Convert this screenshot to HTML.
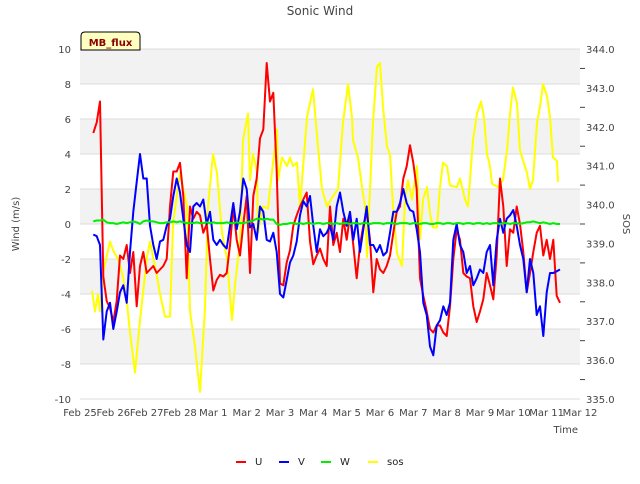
<!DOCTYPE html>
<html><head><meta charset="utf-8"><style>
body{margin:0;background:#fff;font-family:"DejaVu Sans",sans-serif}
svg text{font-family:"DejaVu Sans",sans-serif}
</style></head><body>
<svg id="chart" width="640" height="480" xmlns="http://www.w3.org/2000/svg">
<rect x="0" y="0" width="640" height="480" fill="#fff"/>
<g id="bands"></g><g id="grid"></g><g id="series"></g><g id="axes"></g>
<text x="320" y="15" text-anchor="middle" font-size="12" fill="#444">Sonic Wind</text>
<text transform="translate(19,224) rotate(-90)" text-anchor="middle" font-size="10" fill="#444">Wind (m/s)</text>
<text transform="translate(623,224) rotate(90)" text-anchor="middle" font-size="10" fill="#444">SOS</text>
<text x="578" y="433" text-anchor="end" font-size="10" fill="#444">Time</text>
<g>
<path d="M81,50 L81,36 Q81,32 85,32 L136,32 Q140,32 140,36 L140,50 Z" fill="#ffffc0" stroke="#000" stroke-width="1"/>
<text x="110.5" y="46" text-anchor="middle" font-size="10" font-weight="bold" fill="#8b0000">MB_flux</text>
</g>
<g id="legend"></g>
</svg>
<script>
const times=[0.4,0.5,0.6,0.7,0.8,0.9,1.0,1.1,1.2,1.3,1.4,1.5,1.6,1.7,1.8,1.9,2.0,2.1,2.2,2.3,2.4,2.5,2.6,2.7,2.8,2.9,3.0,3.1,3.2,3.3,3.4,3.5,3.6,3.7,3.8,3.9,4.0,4.1,4.2,4.3,4.4,4.5,4.6,4.7,4.8,4.9,5.0,5.1,5.2,5.3,5.4,5.5,5.6,5.7,5.8,5.9,6.0,6.1,6.2,6.3,6.4,6.5,6.6,6.7,6.8,6.9,7.0,7.1,7.2,7.3,7.4,7.5,7.6,7.7,7.8,7.9,8.0,8.1,8.2,8.3,8.4,8.5,8.6,8.7,8.8,8.9,9.0,9.1,9.2,9.3,9.4,9.5,9.6,9.7,9.8,9.9,10.0,10.1,10.2,10.3,10.4,10.5,10.6,10.7,10.8,10.9,11.0,11.1,11.2,11.3,11.4,11.5,11.6,11.7,11.8,11.9,12.0,12.1,12.2,12.3,12.4,12.5,12.6,12.7,12.8,12.9,13.0,13.1,13.2,13.3,13.4,13.5,13.6,13.7,13.8,13.9,14.0,14.1,14.2,14.3,14.4];
const uVals=[5.2,5.8,7.0,-3,-4.4,-4.8,-5.6,-4.4,-1.8,-2,-1.2,-2.8,-1.6,-4.7,-2.4,-1.6,-2.8,-2.6,-2.4,-2.8,-2.6,-2.4,-2,1,3,3,3.5,1.6,-3.1,1,0.3,0.7,0.5,-0.5,0,-2,-3.8,-3.2,-2.9,-3,-2.8,-1.2,1,-0.9,-1.8,0,1.6,-2.8,1.6,2.6,4.9,5.4,9.2,7,7.5,3,-3.4,-3.5,-2.2,-1.5,-0.1,0.5,1,1.4,1.8,-1,-2.3,-1.8,-1.4,-2,-2.4,1,-1.2,-0.5,-1.6,0.3,-0.9,0.5,-1.2,-3.1,-1.2,-0.1,0.7,-0.9,-3.9,-2,-2.6,-2.8,-2.4,-1.8,-0.5,0.7,1,2.6,3.3,4.5,3.5,2,-3.1,-4.1,-5,-6,-6.2,-5.8,-5.8,-6.2,-6.4,-4.7,-2,-0.3,-0.9,-2.8,-3,-3.1,-4.7,-5.6,-5,-4.3,-2.8,-3.5,-4.3,-1.8,2.6,1,-2.4,-0.3,-0.5,1,0,-1.6,-3.9,-2.8,-1.6,-0.5,-0.1,-1.8,-0.9,-2,-0.9,-4.1,-4.5];
const vVals=[-0.6,-0.7,-1.2,-6.6,-5,-4.5,-6,-5,-3.9,-3.5,-4.5,-1.6,0.7,2.4,4.0,2.6,2.6,-0.1,-1.2,-2,-1,-0.9,-0.1,0.3,1.6,2.6,1.8,0.3,-1.2,-1.6,1,1.2,1,1.4,0,0.7,-0.9,-1.2,-0.9,-1.2,-1.4,-0.1,1.2,-0.3,0.7,2.6,2,-0.2,0,-0.9,1,0.7,-0.9,-1,-0.5,-1.6,-4,-4.2,-3.2,-2.2,-1.8,-1,0.5,1.3,1,1.6,-0.1,-1.6,-0.3,-0.7,-0.5,-0.1,-0.9,1,1.8,0.7,-0.1,0.7,-0.9,0.3,-1.6,-0.3,1,-1.2,-1.2,-1.6,-1.2,-1.8,-1.6,-0.5,0.7,0.7,1.2,2,1.2,0.8,0.7,-0.3,-1.6,-4.5,-5.2,-7,-7.5,-5.8,-5.5,-4.7,-5.2,-4.5,-0.9,0,-1.2,-1.6,-2.8,-2.4,-3.5,-3.1,-2.6,-2.8,-1.6,-1.2,-3.5,-0.9,0.3,-0.5,0.3,0.5,0.8,-0.1,-1.2,-2,-3.9,-2,-2.8,-5.2,-4.7,-6.4,-3.9,-2.8,-2.8,-2.7,-2.6];
const wVals=[0.15,0.2,0.2,0.25,0.1,0.05,0.05,0.0,0.05,0.1,0.05,0.1,0.15,0.1,0.0,0.15,0.2,0.15,0.15,0.1,0.05,0.05,0.1,0.1,0.15,0.1,0.15,0.1,0.05,0.05,0.05,0.1,0.05,0.05,0.1,0.05,0.1,0.05,0.05,0.05,0.1,0.05,0.05,0.1,0.05,0.05,0.1,0.15,0.2,0.3,0.3,0.25,0.3,0.25,0.25,0.0,-0.05,0.0,0.0,0.05,0.05,0.0,0.05,0.0,0.05,0.05,0.0,0.05,0.05,0.0,0.05,0.05,0.0,0.05,0.0,0.05,0.05,0.0,0.05,0.05,0.0,0.05,0.05,0.0,0.05,0.05,0.05,0.0,0.05,0.05,0.05,0.0,0.05,0.05,0.05,0.0,0.05,0.05,0.0,0.05,0.05,0.0,0.0,0.05,0.05,0.0,0.05,0.05,0.0,0.05,0.05,0.0,0.05,0.05,0.0,0.05,0.05,0.0,0.05,0.0,0.05,0.05,0.0,0.05,0.05,0.0,0.05,0.05,0.0,0.05,0.1,0.1,0.15,0.1,0.05,0.1,0.05,0.0,0.05,0.0,0.0];
const sosT=[0.36,0.45,0.54,0.6,0.69,0.9,0.99,1.14,1.29,1.41,1.5,1.65,1.8,2.01,2.1,2.31,2.4,2.55,2.7,2.79,3.0,3.21,3.3,3.45,3.6,3.75,3.84,3.99,4.11,4.26,4.41,4.56,4.65,4.8,4.89,5.04,5.1,5.19,5.31,5.34,5.49,5.64,5.76,5.91,5.94,6.06,6.21,6.3,6.39,6.51,6.6,6.81,6.99,7.14,7.26,7.41,7.56,7.74,7.89,8.04,8.16,8.19,8.34,8.46,8.55,8.61,8.7,8.79,8.91,9.0,9.09,9.21,9.3,9.39,9.51,9.66,9.75,9.84,9.96,10.11,10.2,10.29,10.41,10.5,10.59,10.71,10.8,10.89,11.01,11.1,11.31,11.4,11.55,11.64,11.79,11.91,12.03,12.12,12.21,12.3,12.36,12.54,12.69,12.81,12.9,12.99,13.11,13.2,13.41,13.5,13.59,13.71,13.8,13.89,14.01,14.1,14.19,14.31,14.34];
const sosVals=[337.79,337.25,337.7,337.25,338.24,339.05,338.83,338.6,338.15,337.48,336.71,335.68,337.03,338.65,339.05,338.15,337.7,337.12,337.12,339.5,340.81,339.95,337.25,336.35,335.18,337.34,339.95,341.3,340.81,339.28,338.6,337.03,337.93,339.05,341.66,342.34,340.63,341.3,340.85,339.28,339.95,339.9,340.85,341.93,340.63,341.21,340.99,341.21,340.99,341.08,339.95,342.25,342.97,341.48,340.4,339.95,340.18,340.4,342.11,343.1,342.25,341.66,341.21,340.45,339.95,338.65,340.4,342.11,343.55,343.64,342.52,341.48,341.3,339.95,338.74,338.42,340.13,340.63,340.13,340.99,339.1,340.13,340.45,339.77,339.41,339.41,340.45,341.08,340.99,340.49,340.45,340.67,340.13,339.95,341.66,342.34,342.65,342.25,341.3,340.99,340.54,340.45,340.63,341.39,342.34,343.01,342.61,341.39,340.81,340.4,340.63,342.11,342.52,343.1,342.79,342.25,341.21,341.12,340.58];
const xLabels=["Feb 25","Feb 26","Feb 27","Feb 28","Mar 1","Mar 2","Mar 3","Mar 4","Mar 5","Mar 6","Mar 7","Mar 8","Mar 9","Mar 10","Mar 11","Mar 12"];
const yTicks=[-10,-8,-6,-4,-2,0,2,4,6,8,10];
const y2Ticks=[335,336,337,338,339,340,341,342,343,344];
const legendNames=["U","V","W","sos"];
const legendColors=["#ff0000","#0000ff","#00ee00","#ffff00"];

const NS="http://www.w3.org/2000/svg";
const L=80,R=580,T=49,B=399;
const xS=t=>L+t*(R-L)/15;
const yS=v=>B-(v+10)*(B-T)/20;
const y2S=v=>B-(v-335)*(B-T)/9;
function mk(tag,attrs,parent){const e=document.createElementNS(NS,tag);for(const k in attrs)e.setAttribute(k,attrs[k]);parent.appendChild(e);return e;}
const bands=document.getElementById('bands'),grid=document.getElementById('grid'),series=document.getElementById('series'),axes=document.getElementById('axes'),legend=document.getElementById('legend');
for(let i=0;i<yTicks.length-1;i++){
  if(i%2===1){const r=mk('rect',{x:L,y:yS(yTicks[i+1]),width:R-L,height:yS(yTicks[i])-yS(yTicks[i+1]),fill:'#f2f2f2'},bands);
  
  }
}
yTicks.forEach(v=>{
  const ln=mk('line',{x1:L,x2:R,y1:yS(v),y2:yS(v),stroke:'#dcdcdc','stroke-width':1},grid);
  
  
  const t=mk('text',{x:71,y:yS(v)+4,'text-anchor':'end','font-size':10,fill:'#444'},axes);t.textContent=v;
  
  
});
y2Ticks.forEach(v=>{
  const t=mk('text',{x:586,y:y2S(v)+4,'font-size':10,fill:'#444'},axes);t.textContent=v.toFixed(1);
  
  
  if(v<344){const tk=mk('line',{x1:R,x2:R+5,y1:y2S(v+0.5),y2:y2S(v+0.5),stroke:'#444'},axes);
  
  }
});
xLabels.forEach((s,i)=>{
  const t=mk('text',{x:xS(i),y:416,'text-anchor':'middle','font-size':10,fill:'#444'},axes);t.textContent=s;
  
  
});
function line(ts,vs,sc,color,name){
  const d=ts.map((t,i)=>(i?'L':'M')+xS(t).toFixed(1)+','+sc(vs[i]).toFixed(1)).join('');
  const p=mk('path',{d:d,fill:'none',stroke:color,'stroke-width':2,'stroke-linejoin':'round'},series);
  
  
}
line(sosT,sosVals,y2S,'#ffff00','series-sos');
line(times,uVals,yS,'#ff0000','series-u');
line(times,vVals,yS,'#0000ff','series-v');
line(times,wVals,yS,'#00ee00','series-w');
const lx=[236,279,321,368];
legendNames.forEach((n,i)=>{
  const g=mk('g',{},legend);
  
  
  mk('line',{x1:lx[i],x2:lx[i]+10,y1:462,y2:462,stroke:legendColors[i],'stroke-width':2},g);
  const t=mk('text',{x:lx[i]+19,y:465,'font-size':10,fill:'#222'},g);t.textContent=n;
});
</script>
</body></html>
